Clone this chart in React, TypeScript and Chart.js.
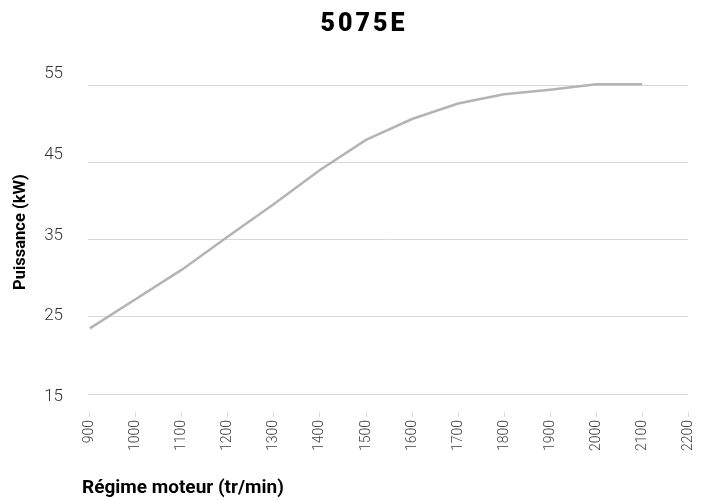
import React, { useEffect, useRef } from "react";
import { Chart, registerables } from "chart.js";

Chart.register(...registerables);

// Data
const rpm = [900, 1000, 1100, 1200, 1300, 1400, 1500, 1600, 1700, 1800, 1900, 2000, 2100];
const powerKW = [23.5, 27.3, 31.1, 35.4, 39.6, 44.0, 47.9, 50.6, 52.6, 53.8, 54.4, 55.1, 55.1];
const xTickValues = [900, 1000, 1100, 1200, 1300, 1400, 1500, 1600, 1700, 1800, 1900, 2000, 2100, 2200];
const yTickValues = [15, 25, 35, 45, 55];

const chartTitle = "5075E";
const xTitle = "Régime moteur (tr/min)";
const yTitle = "Puissance (kW)";

const plain = (v: any) => String(v);

function shiftTitle(scale: any, dx: number, dy: number, ctx: CanvasRenderingContext2D) {
  if (!scale) return;
  const orig = scale.drawTitle.bind(scale);
  scale.drawTitle = (...args: any[]) => {
    ctx.save();
    ctx.translate(dx, dy);
    orig(...args);
    ctx.restore();
  };
}

export default function App() {
  const ref = useRef<HTMLCanvasElement | null>(null);

  useEffect(() => {
    if (!ref.current) return;
    const chart = new Chart(ref.current, {
      type: "line",
      data: {
        datasets: [
          {
            data: rpm.map((r, i) => ({ x: r, y: powerKW[i] })),
            borderColor: "#b4b4b4",
            borderWidth: 2.5,
            pointRadius: 0,
            tension: 0,
            fill: false,
            yAxisID: "y",
            xAxisID: "x",
          },
        ],
      },
      options: {
        animation: false,
        responsive: false,
        maintainAspectRatio: false,
        layout: { padding: { left: 27, right: 7, top: 0, bottom: 0 } },
        plugins: {
          legend: { display: false },
          tooltip: { enabled: false },
          title: {
            display: true,
            text: chartTitle,
            color: "#000",
            font: { family: "Roboto", size: 25, weight: 900 as any },
            padding: { top: 10, bottom: 20 },
          },
        },
        scales: {
          x: {
            type: "linear",
            min: 896,
            max: 2200,
            afterBuildTicks: (s: any) => {
              s.ticks = xTickValues.map((v) => ({ value: v }));
            },
            afterFit: (s: any) => {
              s.height = 88;
            },
            grid: { drawOnChartArea: false, drawTicks: true, tickLength: 5, color: "#d9d9d9" },
            border: { display: false },
            ticks: {
              autoSkip: false,
              minRotation: 90,
              maxRotation: 90,
              padding: 3,
              color: "#404040",
              callback: plain,
              font: { family: "Roboto", size: 14, weight: 300 as any },
            },
            title: {
              display: true,
              text: xTitle,
              align: "start",
              color: "#000",
              font: { family: "Roboto", size: 19, weight: "bold" },
              padding: { top: 0, bottom: 0 },
            },
          },
          y: {
            type: "linear",
            position: "left",
            min: 12.67,
            max: 58.24,
            weight: 0,
            afterBuildTicks: (s: any) => {
              s.ticks = yTickValues.map((v) => ({ value: v }));
            },
            afterFit: (s: any) => {
              s.width = 0;
            },
            ticks: { display: false },
            grid: { color: "#d9d9d9", drawTicks: false, lineWidth: 1 },
            border: { display: false },
          },
          yl: {
            type: "linear",
            axis: "y",
            position: "left",
            min: 13.14,
            max: 56.73,
            weight: 1,
            afterBuildTicks: (s: any) => {
              s.ticks = yTickValues.map((v) => ({ value: v }));
            },
            afterFit: (s: any) => {
              s.width = 61;
            },
            grid: { display: false },
            border: { display: false },
            ticks: {
              padding: 17,
              color: "#333333",
              callback: plain,
              font: { family: "Roboto", size: 17, weight: 300 as any },
            },
            title: {
              display: true,
              text: yTitle,
              color: "#000",
              font: { family: "Roboto", size: 16.5, weight: "bold" },
              padding: { top: -16, bottom: 0 },
            },
          },
        } as any,
      },
    });

    const ctx = chart.ctx;
    // Letter-spaced title: wrap only the title block's drawing
    const tb: any = (chart as any).titleBlock;
    if (tb) {
      const origDraw = tb.draw.bind(tb);
      tb.draw = (...args: any[]) => {
        const c: any = ctx;
        const prev = c.letterSpacing;
        c.letterSpacing = "3px";
        origDraw(...args);
        c.letterSpacing = prev || "0px";
      };
    }
    shiftTitle((chart as any).scales.x, -6, 0, ctx);
    shiftTitle((chart as any).scales.yl, 0, -4, ctx);
    chart.draw();

    return () => chart.destroy();
  }, []);

  return (
    <div style={{ position: "absolute", left: 0, top: 0, width: 708, height: 500 }}>
      <canvas ref={ref} width={708} height={500} style={{ width: 708, height: 500 }} />
    </div>
  );
}
